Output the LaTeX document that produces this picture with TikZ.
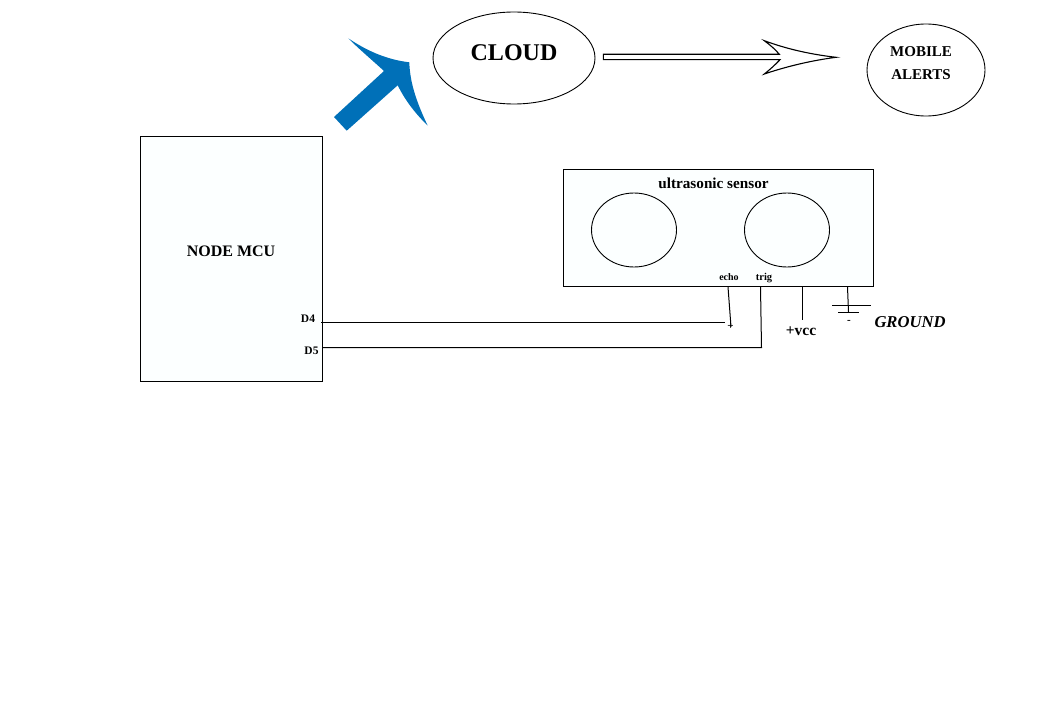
\documentclass[tikz,border=0pt]{standalone}
\usepackage{fontspec}
\setmainfont{Liberation Serif}
\usepackage{xcolor}
\usetikzlibrary{shapes.geometric, positioning, calc}
\definecolor{arrowblue}{HTML}{0070B8}
\definecolor{boxfill}{HTML}{FCFFFF}
\tikzset{
    lbl/.style={font=\bfseries\fontsize{#1}{#1}\selectfont, inner sep=0pt},
    wire/.style={line width=1pt, black},
    blob/.style={draw, ellipse, line width=0.9pt, inner sep=0pt},
    box/.style={draw, line width=1pt, fill=boxfill, inner sep=0pt}
}

\begin{document}
\begin{tikzpicture}[x=1pt, y=-1pt]
\useasboundingbox (0,0) rectangle (1043,706);

% Big blue arrow towards the cloud
\fill[arrowblue] (334,117) -- (346.7,130.7) -- (397.7,85.3)
    .. controls (406,102) and (416,114) .. (427.7,125.7)
    .. controls (418,105) and (410,85) .. (409.3,62.3)
    .. controls (390,60) and (370,53) .. (348.3,38.3)
    .. controls (360,50) and (372,60) .. (384,71) -- cycle;

% Cloud and alerts
\node[blob, minimum width=162pt, minimum height=92pt] (cloud) at (514,58) {};
\node[lbl=24] at (514,53) {CLOUD};
\node[blob, minimum width=118pt, minimum height=92pt] (alerts) at (926,70) {};
\node[lbl=15] at (921,52) {MOBILE};
\node[lbl=15] at (921,75) {ALERTS};

% White arrow between them
\draw[line width=1.1pt, fill=white] (603.3,54.3) -- (779.3,54.3)
    .. controls (775,49) and (770,45) .. (764.3,40.7)
    .. controls (788,49.5) and (812,54.5) .. (836,57.3)
    .. controls (812,60.5) and (788,66) .. (764.3,74)
    .. controls (770,69.5) and (775,65) .. (780,59.7)
    -- (603.3,59.7) -- cycle;

% Node MCU board
\node[box, minimum width=182pt, minimum height=245pt] (mcu) at (231.5,259) {};
\node[lbl=16] at (231,251) {NODE MCU};
\node[lbl=11.5] at (308,319) {D4};
\node[lbl=11.5] at (311.5,351) {D5};

% Ultrasonic sensor
\node[box, minimum width=310pt, minimum height=117pt] (sensor) at (718.5,228) {};
\node[lbl=15.2] at (713.5,183.5) {ultrasonic sensor};
\node[blob, minimum width=85pt, minimum height=74pt] (eyeL) at (634,230) {};
\node[blob, minimum width=85pt, minimum height=74pt] (eyeR) at (787,230) {};
\node[lbl=10] at (729,277.5) {echo};
\node[lbl=10.5] at (764,278.5) {trig};

% Pins and wire ends
\coordinate (d4) at (321,322.5);
\coordinate (d5) at (322,347.5);
\coordinate (echoPin) at (728,287);
\coordinate (echoEnd) at (731,327);
\coordinate (echoJoin) at (725,322.5);
\coordinate (trigPin) at (760.5,287);
\coordinate (trigEnd) at (761.5,347.5);
\coordinate (vccPin) at (802.5,287);
\coordinate (vccEnd) at (802.5,320);
\coordinate (gndPin) at (847.5,287);
\coordinate (gndEnd) at (848.5,312);

% Wires
\draw[wire] (d4) -- (echoJoin);
\draw[wire] (d5) -- (trigEnd) -- (trigPin);
\draw[wire] (echoPin) -- (echoEnd);
\draw[wire] (vccPin) -- (vccEnd);
\draw[wire] (gndPin) -- (gndEnd);

% Ground symbol
\coordinate (gndA) at (832,305.5);
\coordinate (gndB) at (871,305.5);
\coordinate (gndC) at (838,312.5);
\coordinate (gndD) at (859,312.5);
\draw[wire] (gndA) -- (gndB);
\draw[wire] (gndC) -- (gndD);

\node[lbl=11] at (730.5,326) {+};
\node[lbl=15.5] at (801,331) {+vcc};
\node[lbl=11] at (849,322) {-};
\node[lbl=16.6, font=\bfseries\itshape\fontsize{16.6}{16.6}\selectfont] at (910,322) {GROUND};
\end{tikzpicture}
\end{document}
